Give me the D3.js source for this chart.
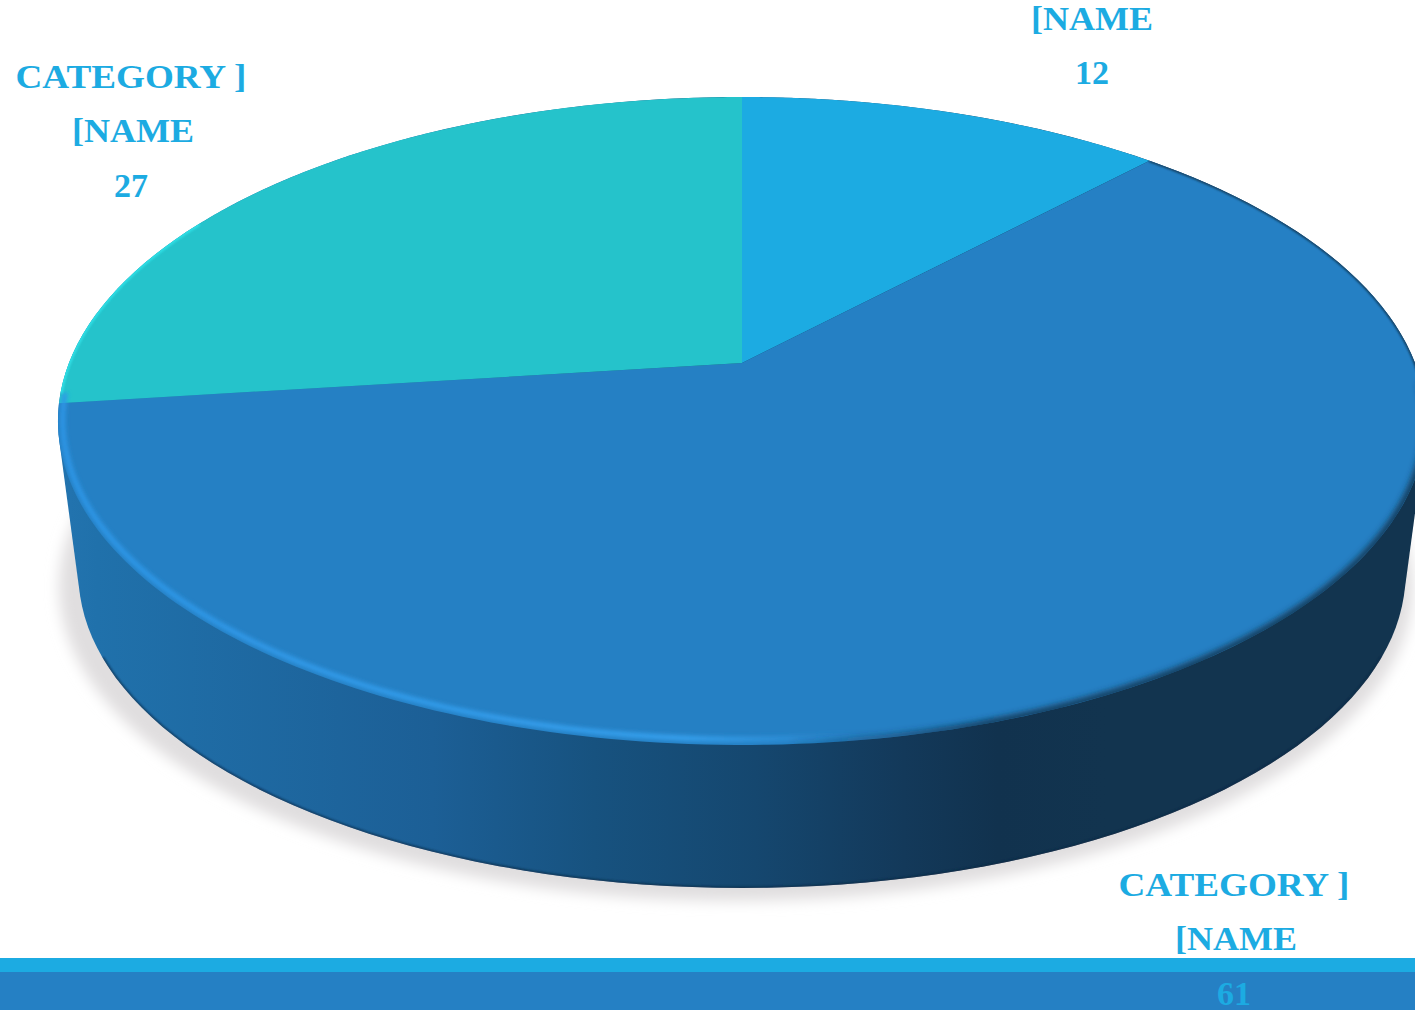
<!DOCTYPE html>
<html><head><meta charset="utf-8">
<script src="https://cdn.jsdelivr.net/npm/d3@7"></script>
<style>html,body{margin:0;padding:0;background:#fff;overflow:hidden}svg{display:block}</style>
</head><body><svg id="c" width="1415" height="1010"></svg>
<script>
const categories = ["12", "61", "27"];
const values = [12, 61, 27];
const colors = ["#1cabe2", "#2580c4", "#25c3cb"];
const labelLines = [["[NAME", "12"], ["CATEGORY ]", "[NAME", "61"], ["CATEGORY ]", "[NAME", "27"]];
const labelAnchors = [[1092, 30], [1234, 896], [131, 88]];
const lineNudges = [[0, 0], [0, 2, 0], [0, 2, 0]];
const lineOffsets = [0, 53.5, 109];
const labelWidths = {"CATEGORY ]": 231, "[NAME": 122};
const wallStops = [[0, "#2273ae"], [0.02, "#2071ab"], [0.27, "#1c5f96"], [0.39, "#17527f"], [0.51, "#15476f"], [0.62, "#13395a"], [0.69, "#11324e"], [0.77, "#12344f"], [1, "#12344f"]];

const svg = d3.select("#c");
const cx = 742, cy = 363, R = 673, S = 313.6, k = 0.179;
// perspective projection of a pie-disc angle (clockwise from 12 o'clock)
const project = a => {
  const u = Math.sin(a), v = -Math.cos(a), w = 1 - k * v;
  return [cx + R * u / w, cy + S * v / w];
};
const lower = a => {
  const p = project(a);
  return [cx + (p[0] - cx) * 0.97, cy + (p[1] - cy) * 0.97 + 154.5];
};
const pathLine = d3.line();
const tau = Math.PI * 2;
const sweep = (a0, a1, f) => d3.range(0, 201).map(i => f(a0 + (a1 - a0) * i / 200));
const topRim = sweep(0, tau, project), lowRim = sweep(0, tau, lower);
const hull = d3.polygonHull(topRim.concat(lowRim));

const defs = svg.append("defs");
const addBlur = (id, s) => defs.append("filter").attr("id", id).attr("filterUnits", "userSpaceOnUse")
  .attr("x", -100).attr("y", -100).attr("width", 1700).attr("height", 1200)
  .append("feGaussianBlur").attr("stdDeviation", s);
addBlur("b7", 7); addBlur("b3", 3); addBlur("b2", 2); addBlur("b1", 1);
const g = defs.append("linearGradient").attr("id", "wall").attr("gradientUnits", "userSpaceOnUse")
  .attr("x1", 70).attr("x2", 1415).attr("y1", 0).attr("y2", 0);
wallStops.forEach(s => g.append("stop").attr("offset", s[0]).attr("stop-color", s[1]));
const hl = defs.append("linearGradient").attr("id", "hl").attr("gradientUnits", "userSpaceOnUse")
  .attr("x1", 60).attr("x2", 860).attr("y1", 0).attr("y2", 0);
hl.append("stop").attr("offset", 0).attr("stop-color", "#2d97e8");
hl.append("stop").attr("offset", 0.78).attr("stop-color", "#37a2f0");
hl.append("stop").attr("offset", 1).attr("stop-color", "#37a2f0").attr("stop-opacity", 0);
const dk = defs.append("linearGradient").attr("id", "dk").attr("gradientUnits", "userSpaceOnUse")
  .attr("x1", 780).attr("x2", 1000).attr("y1", 0).attr("y2", 0);
dk.append("stop").attr("offset", 0).attr("stop-color", "#12344f").attr("stop-opacity", 0);
dk.append("stop").attr("offset", 1).attr("stop-color", "#12344f");
defs.append("clipPath").attr("id", "topclip").append("path").attr("d", pathLine(topRim) + "Z");
defs.append("clipPath").attr("id", "wallclip").append("path").attr("d", pathLine(hull) + "Z");

// shadow
svg.append("path").attr("d", pathLine(lowRim.map(p => [cx + (p[0] - cx) * 1.02 - 6, p[1] + 13])) + "Z")
  .attr("fill", "#e0dedf").attr("filter", "url(#b7)");
// wall
svg.append("path").attr("d", pathLine(hull) + "Z").attr("fill", "url(#wall)");
svg.append("g").attr("clip-path", "url(#wallclip)").append("path")
  .attr("d", pathLine(sweep(tau * 0.32, tau * 0.68, lower)))
  .attr("fill", "none").attr("stroke", "#0c2a45").attr("stroke-opacity", 0.7).attr("stroke-width", 3).attr("filter", "url(#b1)");

// slices
const arcs = d3.pie().sort(null).value(d => d)(values);
arcs.forEach((d, i) => {
  svg.append("path")
    .attr("d", pathLine([[cx, cy]].concat(sweep(d.startAngle, d.endAngle, project))) + "Z")
    .attr("fill", colors[i]);
});
// rim lights clipped to the disc
const rims = svg.append("g").attr("clip-path", "url(#topclip)");
rims.append("path").attr("d", pathLine(sweep(tau * 0.44, tau * 0.735, a => { const p = project(a); return [cx + (p[0] - cx) * 0.993, cy + (p[1] - cy) * 0.985]; })))
  .attr("fill", "none").attr("stroke", "url(#hl)").attr("stroke-width", 5).attr("filter", "url(#b2)");
rims.append("path").attr("d", pathLine(sweep(tau * 0.735, tau * 0.83, project)))
  .attr("fill", "none").attr("stroke", "#2fe0e6").attr("stroke-width", 4).attr("filter", "url(#b1)");
rims.append("path").attr("d", pathLine(sweep(tau * 0.12, tau * 0.27, project)))
  .attr("fill", "none").attr("stroke", "#12344f").attr("stroke-width", 2.5).attr("filter", "url(#b1)");
rims.append("path").attr("d", pathLine(sweep(tau * 0.26, tau * 0.49, project)))
  .attr("fill", "none").attr("stroke", "url(#dk)").attr("stroke-width", 7).attr("filter", "url(#b3)");

// bars
svg.append("rect").attr("x", 0).attr("y", 958).attr("width", 1415).attr("height", 14).attr("fill", colors[0]);
svg.append("rect").attr("x", 0).attr("y", 972).attr("width", 1415).attr("height", 38).attr("fill", colors[1]);

// labels
labelLines.forEach((ls, i) => {
  ls.forEach((t, j) => {
    const el = svg.append("text").attr("x", labelAnchors[i][0] + lineNudges[i][j]).attr("y", labelAnchors[i][1] + lineOffsets[j])
      .attr("text-anchor", "middle").attr("fill", colors[0])
      .attr("font-family", "'Liberation Serif', serif").attr("font-weight", "bold")
      .attr("font-size", 34).text(t);
    if (labelWidths[t]) el.attr("textLength", labelWidths[t]).attr("lengthAdjust", "spacingAndGlyphs");
  });
});
</script></body></html>
